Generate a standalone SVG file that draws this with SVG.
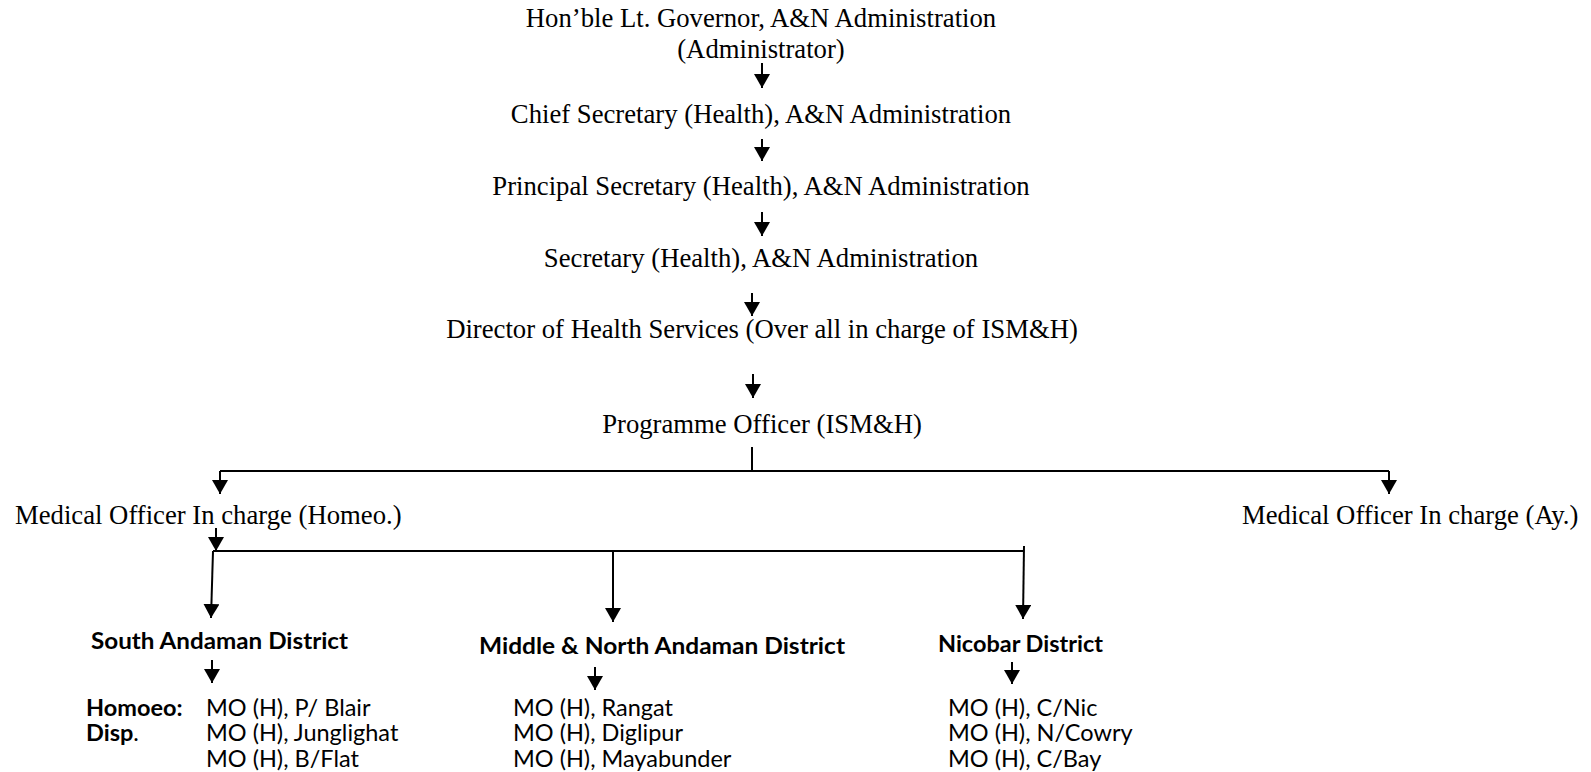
<svg xmlns="http://www.w3.org/2000/svg" width="1591" height="772" viewBox="0 0 1591 772">
<defs>
<marker id="ah" markerUnits="userSpaceOnUse" markerWidth="16" markerHeight="16" refX="14" refY="8" orient="auto">
<path d="M0,0 L14,8 L0,16 z" fill="#000"/>
</marker>
<style>
.t{font-family:"Liberation Serif","Times New Roman",serif;font-size:26.7px;fill:#000}
.c{text-anchor:middle}
.s{font-family:Lato,"Open Sans",sans-serif;font-size:23.5px;fill:#000}
.b{font-weight:bold}
.n{font-weight:normal}
.ln{stroke:#000;stroke-width:2;fill:none}
.ar{stroke:#000;stroke-width:2;fill:none;marker-end:url(#ah)}
</style>
</defs>
<rect width="1591" height="772" fill="#fff"/>
<g id="connectors">
<path class="ar" d="M762,63 L762,88"/>
<path class="ar" d="M762,139 L762,161"/>
<path class="ar" d="M762,212 L762,236"/>
<path class="ar" d="M752,293 L752,316"/>
<path class="ar" d="M753,374 L753,398"/>
<path class="ln" d="M752,447 L752,471"/>
<path class="ln" d="M220,471 L1389,471"/>
<path class="ar" d="M220,471 L220,494"/>
<path class="ar" d="M1389,471 L1389,494"/>
<path class="ar" d="M216,528 L216,551"/>
<path class="ln" d="M213,551 L1024,551"/>
<path class="ar" d="M213,551 L211,618"/>
<path class="ar" d="M613,551 L613,622"/>
<path class="ar" d="M1024,546 L1023,619"/>
<path class="ar" d="M212,660 L212,683"/>
<path class="ar" d="M595,667 L595,690"/>
<path class="ar" d="M1012,662 L1012,684"/>
</g>
<g id="governor"><text class="t c" x="761" y="27">Hon’ble Lt. Governor, A&amp;N Administration</text><text class="t c" x="761" y="58">(Administrator)</text></g>
<g id="chief-secretary"><text class="t c" x="761" y="123">Chief Secretary (Health), A&amp;N Administration</text></g>
<g id="principal-secretary"><text class="t c" x="761" y="195">Principal Secretary (Health), A&amp;N Administration</text></g>
<g id="secretary"><text class="t c" x="761" y="267">Secretary (Health), A&amp;N Administration</text></g>
<g id="director"><text class="t c" x="762" y="338">Director of Health Services (Over all in charge of ISM&amp;H)</text></g>
<g id="programme-officer"><text class="t c" x="762" y="433">Programme Officer (ISM&amp;H)</text></g>
<g id="mo-homeo"><text class="t" x="15" y="524">Medical Officer In charge (Homeo.)</text></g>
<g id="mo-ay"><text class="t" x="1242" y="524">Medical Officer In charge (Ay.)</text></g>
<g id="south-andaman">
<text class="s b" x="91" y="649" textLength="257" lengthAdjust="spacingAndGlyphs">South Andaman District</text>
<text class="s b" x="86" y="716">Homoeo:</text>
<text class="s b" x="86" y="741">Disp<tspan class="n">.</tspan></text>
<text class="s" x="206" y="716">MO (H), P/ Blair</text>
<text class="s" x="206" y="741">MO (H), Junglighat</text>
<text class="s" x="206" y="767">MO (H), B/Flat</text>
</g>
<g id="middle-north-andaman">
<text class="s b" x="479" y="654" textLength="366" lengthAdjust="spacingAndGlyphs">Middle &amp; North Andaman District</text>
<text class="s" x="513" y="716">MO (H), Rangat</text>
<text class="s" x="513" y="741">MO (H), Diglipur</text>
<text class="s" x="513" y="767">MO (H), Mayabunder</text>
</g>
<g id="nicobar">
<text class="s b" x="938" y="652" textLength="165" lengthAdjust="spacingAndGlyphs">Nicobar District</text>
<text class="s" x="948" y="716">MO (H), C/Nic</text>
<text class="s" x="948" y="741">MO (H), N/Cowry</text>
<text class="s" x="948" y="767">MO (H), C/Bay</text>
</g>
</svg>
